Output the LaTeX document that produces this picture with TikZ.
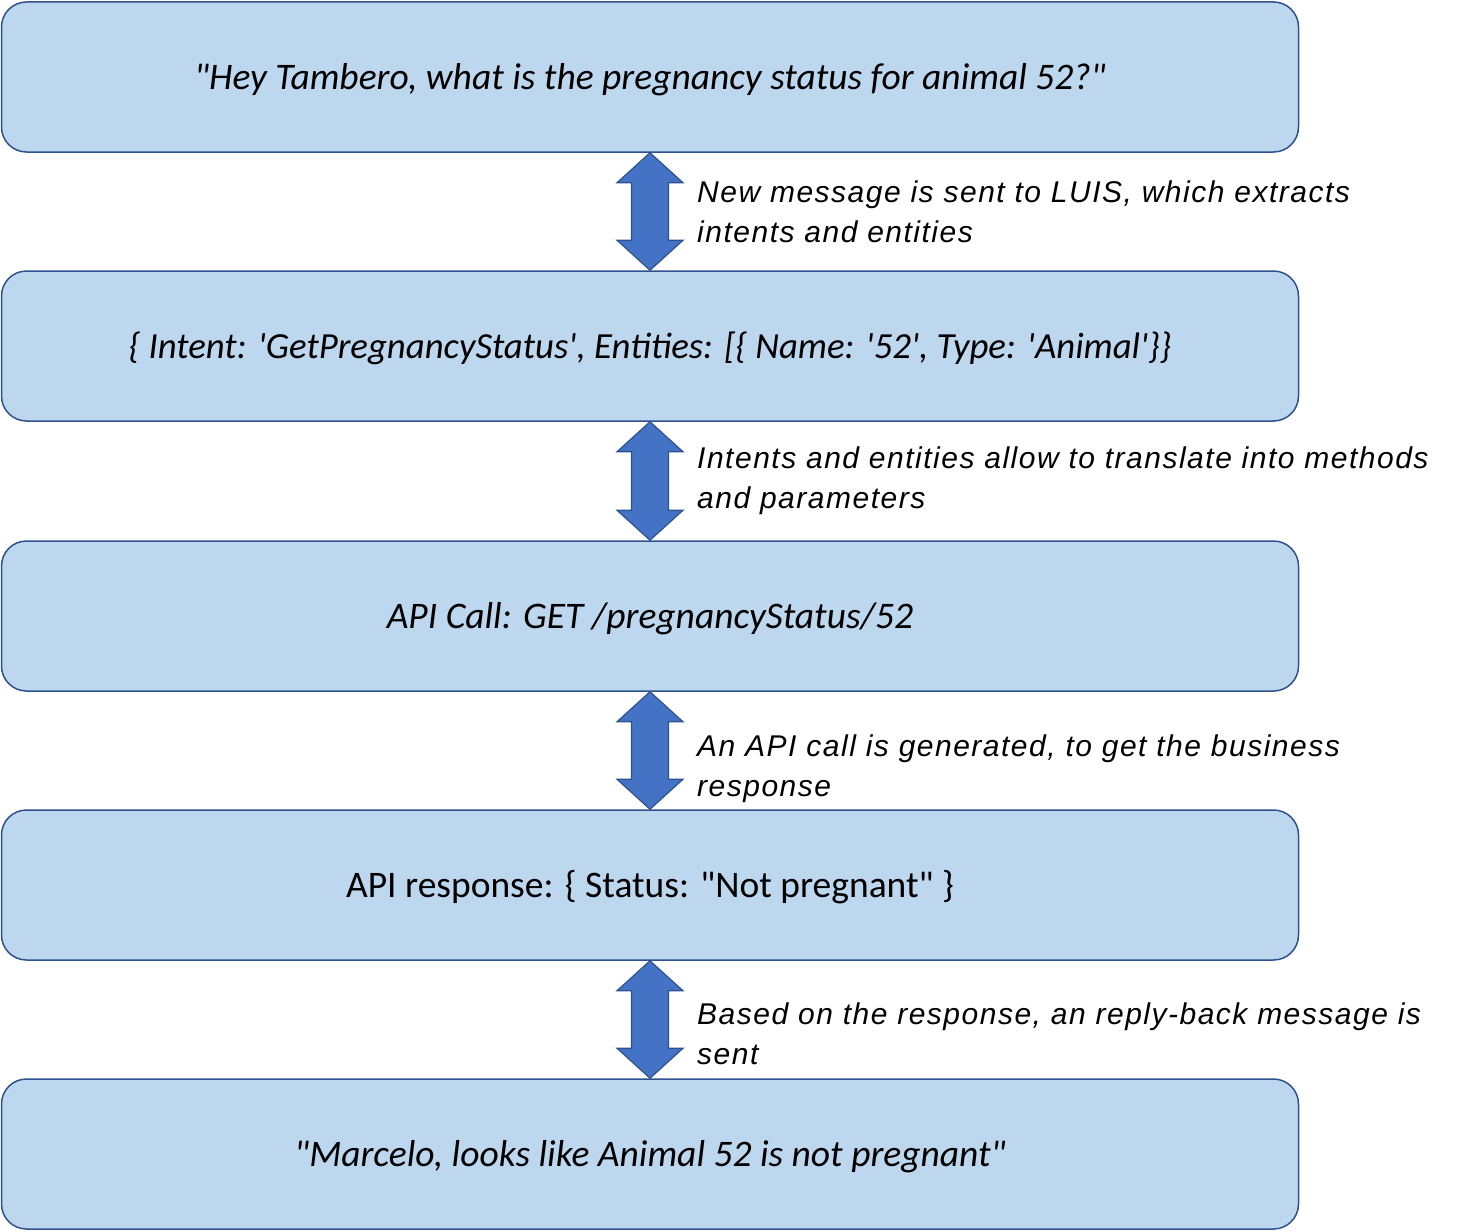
\documentclass[tikz,border=0pt]{standalone}
\usepackage{fontspec}
\setmainfont{Carlito}
\newfontfamily\notefont{Liberation Sans}[LetterSpace=5]
\usetikzlibrary{calc}
\definecolor{boxfill}{HTML}{BDD7EE}
\definecolor{boxline}{HTML}{2F528F}
\definecolor{arrowfill}{HTML}{4472C4}

\tikzset{
    stepbox/.style={draw=boxline, line width=1.5pt, fill=boxfill, rounded corners=25pt,
        minimum width=1297pt, minimum height=150pt, inner sep=0pt,
        text height=27pt, text depth=3pt,
        font=\fontsize{37.5}{45}\selectfont\itshape},
    twoway/.style={draw=boxline, line width=1.2pt, fill=arrowfill, line join=miter},
    note/.style={anchor=west, align=left, inner sep=0pt,
        font=\notefont\fontsize{30}{40}\selectfont\itshape}
}

\begin{document}
\begin{tikzpicture}[x=1pt,y=1pt]
    \useasboundingbox (0,0) rectangle (1466,-1231);

    % Draw the boxes
    \node[stepbox] (ask) at (650,-77) {\textquotedbl Hey Tambero, what is the pregnancy status for animal 52?\textquotedbl};
    \node[stepbox, font=\fontsize{36.8}{45}\selectfont\itshape] (intent) at (650,-346) {\{ Intent: \textquotesingle GetPregnancyStatus\textquotesingle, Entities: [\{ Name: \textquotesingle 52\textquotesingle, Type: \textquotesingle Animal\textquotesingle\}\}};
    \node[stepbox] (call) at (650,-616) {API Call: GET /pregnancyStatus/52};
    \node[stepbox, font=\fontsize{37.5}{45}\selectfont] (resp) at (650,-885) {API response: \{ Status: \textquotedbl Not pregnant\textquotedbl{} \}};
    \node[stepbox] (reply) at (650,-1154) {\textquotedbl Marcelo, looks like Animal 52 is not pregnant\textquotedbl};

    % Draw the double arrows between boxes
    \foreach \a/\b in {ask/intent, intent/call, call/resp, resp/reply} {
        \path[twoway] let \p1=(\a.south), \p2=(\b.north) in
            (\x1,\y1) -- (\x1+33pt,\y1-30pt) -- (\x1+18.5pt,\y1-30pt)
            -- (\x1+18.5pt,\y2+30pt) -- (\x1+33pt,\y2+30pt) -- (\x2,\y2)
            -- (\x1-33pt,\y2+30pt) -- (\x1-18.5pt,\y2+30pt)
            -- (\x1-18.5pt,\y1-30pt) -- (\x1-33pt,\y1-30pt) -- cycle;
    }

    % Label the steps
    \node[note] (luis) at (697,-212) {New message is sent to LUIS, which extracts\\intents and entities};
    \node[note] (map) at (697,-481) {Intents and entities allow to translate into methods\\and parameters};
    \node[note] (gen) at (697,-769) {An API call is generated, to get the business\\response};
    \node[note] (back) at (697,-1034) {Based on the response, an reply-back message is\\sent};
\end{tikzpicture}
\end{document}
